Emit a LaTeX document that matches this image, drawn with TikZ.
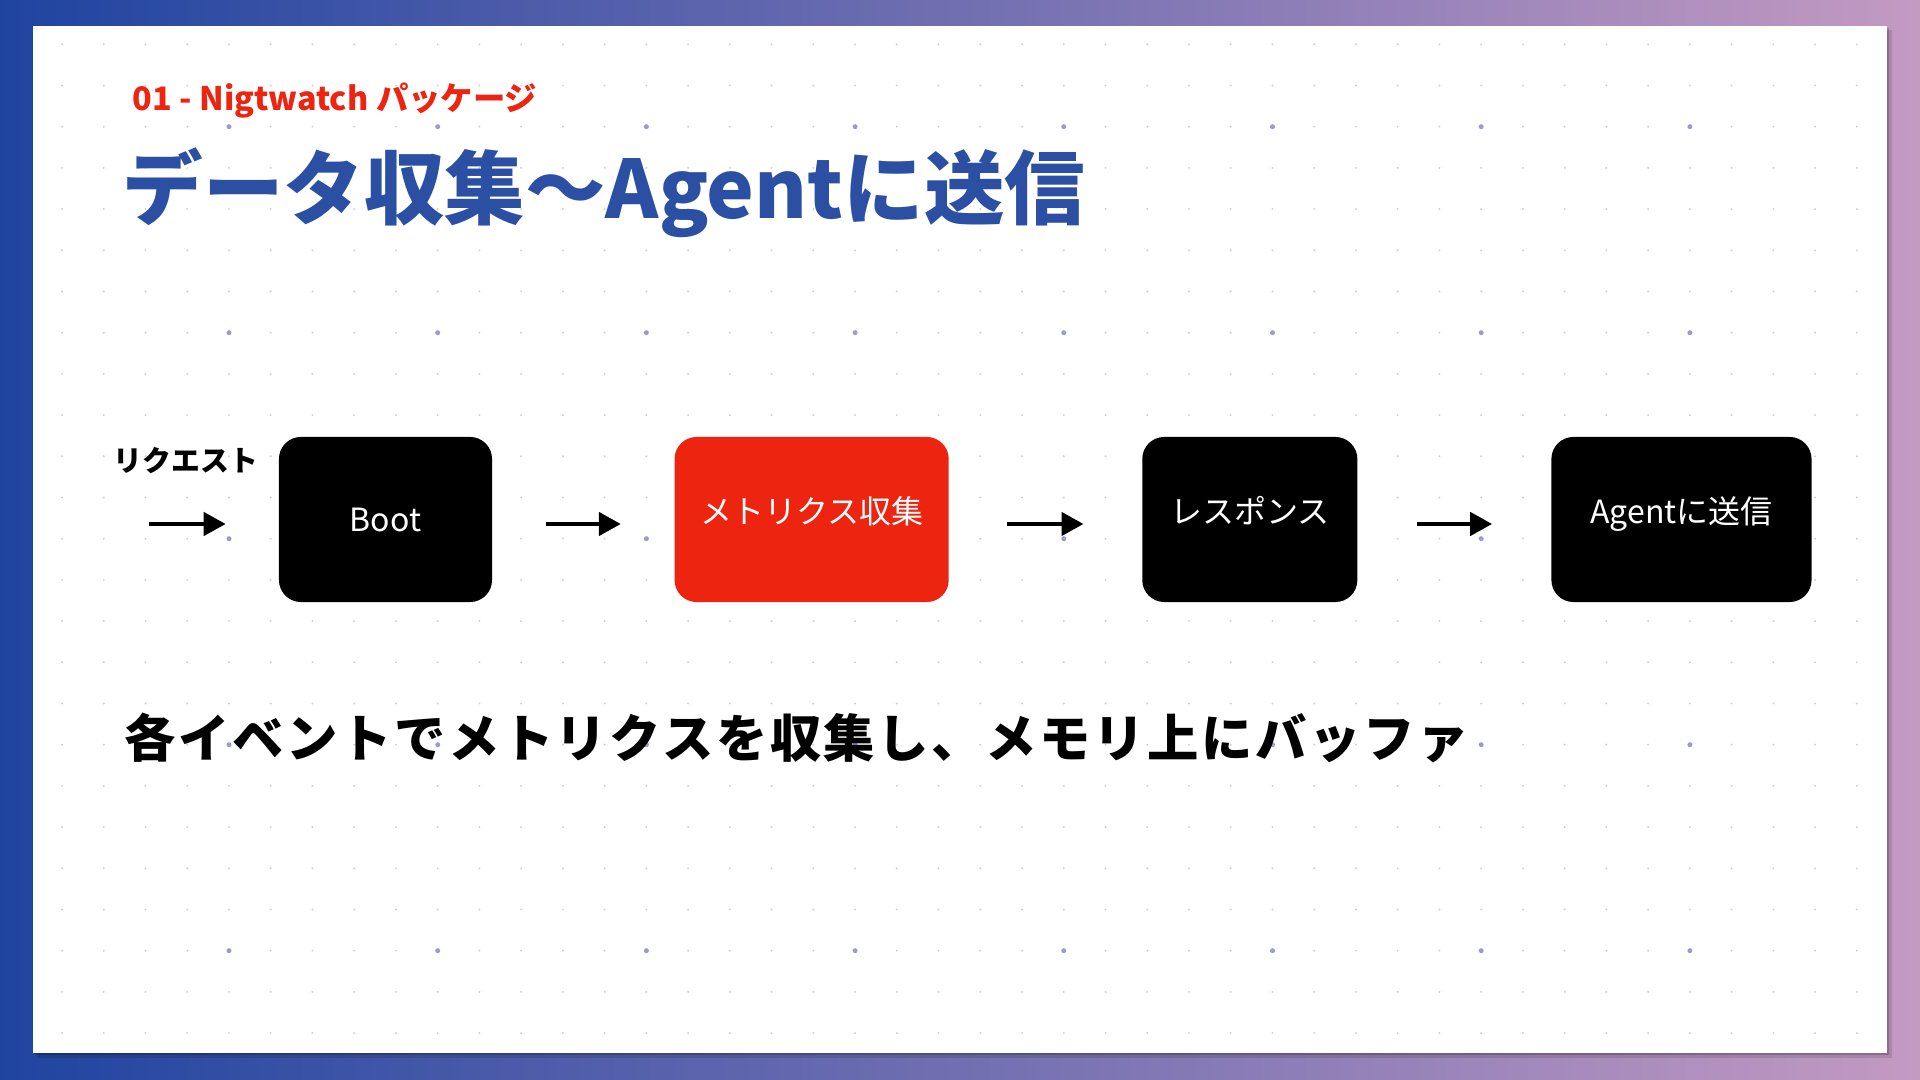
\documentclass[tikz,border=0pt]{standalone}
\usepackage{fontspec}
\setmainfont{Noto Sans CJK JP}
\usepackage{xcolor}
\usetikzlibrary{arrows.meta, positioning}
\definecolor{SlideBlue}{HTML}{1F44A0}
\definecolor{SlideViolet}{HTML}{7F79B5}
\definecolor{SlidePink}{HTML}{C39AC2}
\definecolor{TitleBlue}{HTML}{2B4FA3}
\definecolor{AccentRed}{HTML}{EC2410}
\definecolor{DotGrey}{HTML}{CFCFDA}
\definecolor{DotViolet}{HTML}{9A9AD6}
\tikzset{
    % Default font for every node
    every node/.style={font=\fontsize{9.1pt}{11pt}\selectfont, inner sep=0pt},
    % Step box style
    stagebox/.style={
        rectangle,
        rounded corners=0.22cm,
        fill=black,
        text=white,
        minimum width=2.13cm,
        minimum height=1.65cm,
        align=center
    },
    % Highlighted step box
    activebox/.style={
        stagebox,
        fill=AccentRed
    },
    % Lift Japanese labels a little
    kanalabel/.style={
        text height=0.27cm,
        text depth=0.18cm
    },
    % Arrow style
    arrow/.style={
        -{Triangle[length=0.22cm, width=0.23cm]},
        line width=0.045cm,
        color=black,
        shorten <=0.53cm,
        shorten >=0.53cm
    },
    % Small grid dot
    griddot/.style={fill=DotGrey},
    % Large grid dot
    bigdot/.style={fill=DotViolet}
}

\begin{document}
\begin{tikzpicture}[x=0.01cm, y=-0.01cm, node distance=1.9cm]
        \useasboundingbox (0,0) rectangle (1920,1080);

        % Background and card
        \shade [left color=SlideBlue, middle color=SlideViolet, right color=SlidePink] (0,0) rectangle (1920,1080);
        \fill [black, opacity=0.12] (37,30) rectangle (1892,1058);
        \fill [black, opacity=0.18] (35,28) rectangle (1889,1055);
        \fill [white] (33,26) rectangle (1887,1053);

        % Dot grid
        \foreach \i in {0,...,43} {
            \foreach \j in {0,...,24} {
                \fill [griddot] ({62+41.74*\i},{44.3+41.2*\j}) circle (0.011cm);
            }
        }
        \foreach \i in {0,...,7} {
            \foreach \j in {0,...,4} {
                \fill [bigdot] ({229+208.7*\i},{126.7+206*\j}) circle (0.025cm);
            }
        }

        % Headings
        \node (kicker) [anchor=base west, text=AccentRed, font=\bfseries\fontsize{9.2pt}{11pt}\selectfont] at (132,111) {01 - Nigtwatch パッケージ};
        \node (title) [anchor=base west, text=TitleBlue, font=\bfseries\fontsize{22.9pt}{26pt}\selectfont] at (122,218.5) {データ収集〜Agentに送信};

        % Pipeline
        \coordinate (req) at (96,524);
        \node (reqlabel) [font=\bfseries\fontsize{8.2pt}{10pt}\selectfont] at (186,461) {リクエスト};
        \node (boot) [stagebox] at (385.5,519.5) {Boot};
        \node (metrics) [activebox, kanalabel, right=1.81cm of boot, minimum width=2.74cm] {メトリクス収集};
        \node (response) [stagebox, kanalabel, right=1.92cm of metrics, minimum width=2.15cm] {レスポンス};
        \node (agent) [stagebox, kanalabel, right=1.925cm of response, minimum width=2.60cm] {Agentに送信};

        \draw [arrow, shorten >=0.525cm] (req) -- (boot.west |- req);
        \draw [arrow] (boot.east |- req) -- (metrics.west |- req);
        \draw [arrow, shorten <=0.58cm, shorten >=0.58cm] (metrics.east |- req) -- (response.west |- req);
        \draw [arrow, shorten <=0.585cm, shorten >=0.585cm] (response.east |- req) -- (agent.west |- req);

        % Summary line
        \node (summary) [anchor=base west, font=\bfseries\fontsize{14.6pt}{17pt}\selectfont\addfontfeatures{LetterSpace=5}] at (124,758) {各イベントでメトリクスを収集し、メモリ上にバッファ};
    \end{tikzpicture}
\end{document}
